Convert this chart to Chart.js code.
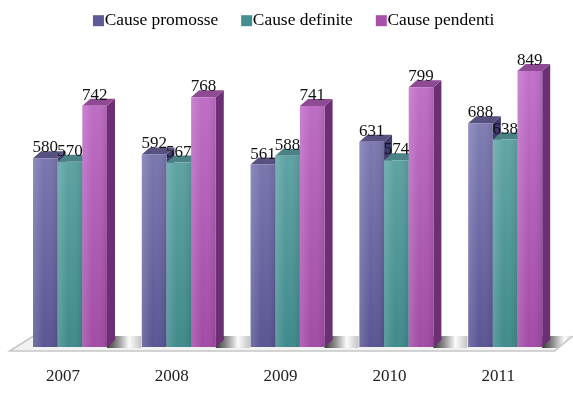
<!DOCTYPE html>
<html>
<head>
<meta charset="utf-8">
<title>Cause</title>
<script src="https://cdn.jsdelivr.net/npm/chart.js@4"></script>
<style>
  html, body { margin: 0; padding: 0; background: #fff; }
  #wrap { position: relative; width: 573px; height: 394px; }
</style>
</head>
<body>
<div id="wrap"><canvas id="causeChart"></canvas></div>
<script>
const years = ['2007', '2008', '2009', '2010', '2011'];
const promosse = [580, 592, 561, 631, 688];
const definite = [570, 567, 588, 574, 638];
const pendenti = [742, 768, 741, 799, 849];

// Depth of the fake 3D extrusion
const DX = 8;
const DY = 7;

const SERIF = '"Liberation Serif", serif';

// [top, bottom, side, lid]
const palettePromosse = ['#8c8abf', '#5a5594', '#3f3a6e', '#56517f'];
const paletteDefinite = ['#70b1b1', '#3f8a8c', '#2e6668', '#4a8285'];
const palettePendenti = ['#c474cc', '#a24ba6', '#6c2f74', '#8f4a94'];
const legendSwatches = ['#5f5b99', '#458f90', '#a84faa'];

function barFill(palette) {
  return function(context) {
    const area = context.chart.chartArea;
    if (!area) return palette[0];
    const g = context.chart.ctx.createLinearGradient(0, area.top, 0, area.bottom);
    g.addColorStop(0, palette[0]);
    g.addColorStop(1, palette[1]);
    return g;
  };
}

// Floor slab under the bars, with a soft shadow behind each group
function drawFloor(chart) {
  const ctx = chart.ctx;
  const a = chart.chartArea;
  const front = a.bottom + 4;
  const back = a.bottom - 11;
  const x0 = a.left - 6;
  const x1 = a.right - 5;

  ctx.save();
  ctx.beginPath();
  ctx.moveTo(x0, front);
  ctx.lineTo(x0 + 24, back);
  ctx.lineTo(x1 + 18, back);
  ctx.lineTo(x1, front);
  ctx.closePath();
  ctx.fillStyle = '#f2f2f2';
  ctx.fill();
  ctx.clip();

  chart.getDatasetMeta(2).data.forEach(function(bar) {
    const start = bar.x + bar.width / 2;
    const g = ctx.createLinearGradient(start, 0, start + 34, 0);
    g.addColorStop(0, '#3a3a3a');
    g.addColorStop(0.3, '#8a8a8a');
    g.addColorStop(0.65, '#fbfbfb');
    g.addColorStop(1, '#c4c4c4');
    ctx.fillStyle = g;
    ctx.fillRect(start, back, 34, a.bottom + 1 - back);
  });
  ctx.restore();

  ctx.save();
  ctx.strokeStyle = '#c6c6c6';
  ctx.lineWidth = 1.5;
  ctx.beginPath();
  ctx.moveTo(x0 + 24, back);
  ctx.lineTo(x0, front);
  ctx.lineTo(x1, front);
  ctx.lineTo(x1 + 18, back);
  ctx.stroke();
  ctx.restore();
}

// Lid and right-hand side of one bar
function drawExtrusion(ctx, bar, palette, floorY) {
  const left = bar.x - bar.width / 2;
  const right = bar.x + bar.width / 2;
  ctx.fillStyle = palette[2];
  ctx.beginPath();
  ctx.moveTo(right, bar.y);
  ctx.lineTo(right + DX, bar.y - DY);
  ctx.lineTo(right + DX, floorY - DY);
  ctx.lineTo(right, floorY);
  ctx.closePath();
  ctx.fill();
  ctx.fillStyle = palette[3];
  ctx.beginPath();
  ctx.moveTo(left, bar.y);
  ctx.lineTo(left + DX, bar.y - DY);
  ctx.lineTo(right + DX, bar.y - DY);
  ctx.lineTo(right, bar.y);
  ctx.closePath();
  ctx.fill();
}

// Cylinder-like shading across the front face
function drawSheen(ctx, bar, floorY) {
  const left = bar.x - bar.width / 2;
  const g = ctx.createLinearGradient(left, 0, left + bar.width, 0);
  g.addColorStop(0, 'rgba(255,255,255,0.16)');
  g.addColorStop(0.45, 'rgba(255,255,255,0)');
  g.addColorStop(1, 'rgba(0,0,0,0.1)');
  ctx.fillStyle = g;
  ctx.fillRect(left, bar.y, bar.width, floorY - bar.y);
}

const bars3d = {
  id: 'bars3d',
  afterLayout(chart) {
    // legend sits a little right of centre, close to the top
    const lg = chart.legend;
    lg.left += 6; lg.right += 6;
    lg.top -= 11; lg.bottom -= 11;
  },
  beforeDatasetsDraw(chart) {
    const ctx = chart.ctx;
    const floorY = chart.chartArea.bottom;
    const palettes = [palettePromosse, paletteDefinite, palettePendenti];
    drawFloor(chart);
    // paint series left to right so each one covers the side of its neighbour
    years.forEach(function(y, i) {
      palettes.forEach(function(p, d) {
        const bar = chart.getDatasetMeta(d).data[i];
        drawExtrusion(ctx, bar, p, floorY);
        bar.draw(ctx);
        drawSheen(ctx, bar, floorY);
      });
    });
    // value labels go on top of everything
    ctx.save();
    ctx.font = '17px ' + SERIF;
    ctx.fillStyle = '#111';
    ctx.textAlign = 'center';
    ctx.textBaseline = 'alphabetic';
    palettes.forEach(function(p, d) {
      const ds = chart.data.datasets[d];
      chart.getDatasetMeta(d).data.forEach(function(bar, i) {
        ctx.fillText(ds.data[i], bar.x, bar.y - 6);
      });
    });
    ctx.restore();
    return false;
  },
  afterDraw(chart) {
    // legend swatches butt up against the text, closer than the built-in box allows
    const ctx = chart.ctx;
    chart.legend.legendHitBoxes.forEach(function(box, i) {
      ctx.fillStyle = legendSwatches[i];
      ctx.fillRect(box.left, box.top + box.height / 2 - 5.5, 11, 11);
    });
  }
};

new Chart(document.getElementById('causeChart'), {
  type: 'bar',
  data: {
    labels: years,
    datasets: [
      { label: 'Cause promosse', data: promosse, backgroundColor: barFill(palettePromosse) },
      { label: 'Cause definite', data: definite, backgroundColor: barFill(paletteDefinite) },
      { label: 'Cause pendenti', data: pendenti, backgroundColor: barFill(palettePendenti) }
    ]
  },
  options: {
    responsive: true,
    maintainAspectRatio: false,
    animation: false,
    layout: { padding: { left: 15.6, right: 13.4, top: 0, bottom: 0 } },
    datasets: { bar: { barPercentage: 1, categoryPercentage: 0.68 } },
    plugins: {
      tooltip: { enabled: false },
      legend: {
        position: 'top',
        labels: {
          boxWidth: 3,
          boxHeight: 11,
          padding: 23,
          color: '#2b2b2b',
          font: { family: SERIF, size: 17.4 },
          generateLabels(chart) {
            return chart.data.datasets.map(function(ds, i) {
              return { text: ds.label, fillStyle: 'transparent', strokeStyle: 'transparent', lineWidth: 0, datasetIndex: i };
            });
          }
        }
      }
    },
    scales: {
      x: {
        grid: { display: false },
        border: { display: false },
        afterFit(scale) { scale.height = 47; },
        ticks: {
          color: '#222',
          padding: 11,
          labelOffset: -7,
          maxRotation: 0,
          font: { family: SERIF, size: 17 }
        }
      },
      y: { display: false, min: 0, max: 912 }
    }
  },
  plugins: [bars3d]
});
</script>
</body>
</html>
